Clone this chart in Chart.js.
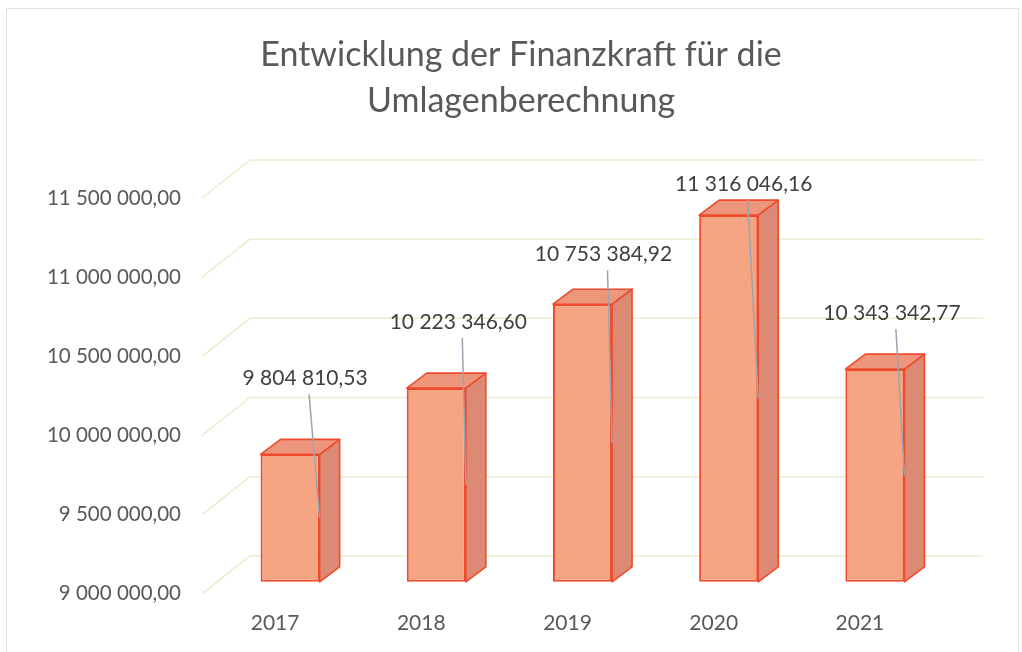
<!DOCTYPE html>
<html>
<head>
<meta charset="utf-8">
<script src="https://cdn.jsdelivr.net/npm/chart.js@4"></script>
<style>
  html, body { margin: 0; padding: 0; background: #fff; }
  #wrap { width: 1022px; height: 652px; position: relative; }
</style>
</head>
<body>
<div id="wrap"><canvas id="finanz-chart"></canvas></div>
<script>
// Daten
const years = ["2017", "2018", "2019", "2020", "2021"];
const finanzkraft = [9804810.53, 10223346.6, 10753384.92, 11316046.16, 10343342.77];
const yTicks = [9000000, 9500000, 10000000, 10500000, 11000000, 11500000];
const titleLines = ["Entwicklung der Finanzkraft für die", "Umlagenberechnung"];

// 9 804 810,53
function fmt(v) {
  const parts = v.toFixed(2).split(".");
  const int = parts[0].replace(/\B(?=(\d{3})+(?!\d))/g, " ");
  return int + "," + parts[1];
}

// Versatz der Säulen gegenüber der Achsenebene, Tiefe der 3D-Säulen
const SHIFT_X = 15, SHIFT_Y = -12;
const DEPTH_X = 20, DEPTH_Y = -15;
// Rückwand der Gitterlinien
const WALL_X = 48, WALL_Y = -38;
// Lage der Beschriftungen (px) relativ zur Säulenvorderseite
const labelDX = [15, 22, 21, 15, 17];
const labelLift = [76, 66, 50, 31, 56];

const frame = {
  id: "frame",
  beforeDraw(chart) {
    const c = chart.ctx;
    c.save();
    c.fillStyle = "#fff";
    c.fillRect(0, 0, chart.width, chart.height);
    c.strokeStyle = "#e2e2e2";
    c.lineWidth = 1;
    c.strokeRect(6.5, 8.5, chart.width - 10, chart.height - 6);
    // Titel
    c.font = "34px Lato";
    c.fillStyle = "#595959";
    c.textAlign = "center";
    c.textBaseline = "middle";
    c.fillText(titleLines[0], 521, 55);
    c.fillText(titleLines[1], 521, 101);
    c.restore();
  },
  beforeDatasetsDraw(chart) {
    const c = chart.ctx, y = chart.scales.y, a = chart.chartArea;
    c.save();
    c.strokeStyle = "#ececcf";
    c.lineWidth = 1.5;
    yTicks.forEach(t => {
      const py = y.getPixelForValue(t);
      c.beginPath();
      c.moveTo(a.left, py);
      c.lineTo(a.left + WALL_X, py + WALL_Y);
      c.lineTo(a.right + WALL_X + 2, py + WALL_Y);
      c.stroke();
    });
    c.restore();
    c.save();
    c.translate(SHIFT_X, SHIFT_Y);
  },
  afterDatasetsDraw(chart) {
    const c = chart.ctx;
    const bars = chart.getDatasetMeta(0).data;
    c.lineJoin = "round";
    bars.forEach(b => {
      const l = b.x - b.width / 2, r = b.x + b.width / 2, t = b.y, bt = b.base;
      c.lineWidth = 1.6;
      c.strokeStyle = "#ef4a2c";
      // Seite
      c.beginPath();
      c.moveTo(r, t);
      c.lineTo(r + DEPTH_X, t + DEPTH_Y);
      c.lineTo(r + DEPTH_X, bt + DEPTH_Y);
      c.lineTo(r, bt);
      c.closePath();
      c.fillStyle = "#dd8a74";
      c.fill();
      c.stroke();
      // Deckel
      c.beginPath();
      c.moveTo(l, t);
      c.lineTo(l + DEPTH_X, t + DEPTH_Y);
      c.lineTo(r + DEPTH_X, t + DEPTH_Y);
      c.lineTo(r, t);
      c.closePath();
      c.fillStyle = "#ee967c";
      c.fill();
      c.stroke();
    });
    c.restore();

    // Beschriftungen mit Führungslinien
    c.save();
    c.font = "21px Lato";
    c.fillStyle = "#404040";
    c.textAlign = "center";
    c.textBaseline = "middle";
    bars.forEach((b, i) => {
      const fx = b.x + SHIFT_X, top = b.y + SHIFT_Y, bot = b.base + SHIFT_Y;
      const lx = fx + labelDX[i], ly = top - labelLift[i];
      c.strokeStyle = "#9aa4b0";
      c.lineWidth = 1.5;
      c.beginPath();
      c.moveTo(lx + 4, ly + 16);
      c.lineTo(fx + b.width / 2, (top + bot) / 2);
      c.stroke();
      c.fillText(fmt(finanzkraft[i]), lx, ly);
    });
    c.restore();
  }
};

const ctx = document.getElementById("finanz-chart").getContext("2d");
const finanzChart = new Chart(ctx, {
  type: "bar",
  data: {
    labels: years,
    datasets: [
      {
        label: "Finanzkraft",
        data: finanzkraft,
        base: 9000000,
        backgroundColor: "#f5a582",
        borderColor: "#ef4a2c",
        borderWidth: 2,
        borderSkipped: false,
        categoryPercentage: 0.8,
        barPercentage: 0.505,
        clip: false,
      },
    ],
  },
  options: {
    responsive: true,
    maintainAspectRatio: false,
    animation: false,
    layout: { padding: { left: 0, right: 89, top: 198, bottom: 7 } },
    plugins: {
      legend: { display: false },
      tooltip: { enabled: false },
      title: { display: false },
    },
    scales: {
      x: {
        grid: { display: false },
        border: { display: false },
        ticks: {
          color: "#595959",
          font: { family: "Lato", size: 21 },
          padding: 9,
        },
      },
      y: {
        min: 9000000,
        max: 11500000,
        afterBuildTicks: s => { s.ticks = yTicks.map(v => ({ value: v })); },
        afterFit: s => { s.width = 202; },
        grid: { display: false, drawTicks: false },
        border: { display: false },
        ticks: {
          color: "#595959",
          font: { family: "Lato", size: 20.5 },
          padding: 21,
          callback: v => fmt(v),
        },
      },
    },
  },
  plugins: [frame],
});
</script>
</body>
</html>
